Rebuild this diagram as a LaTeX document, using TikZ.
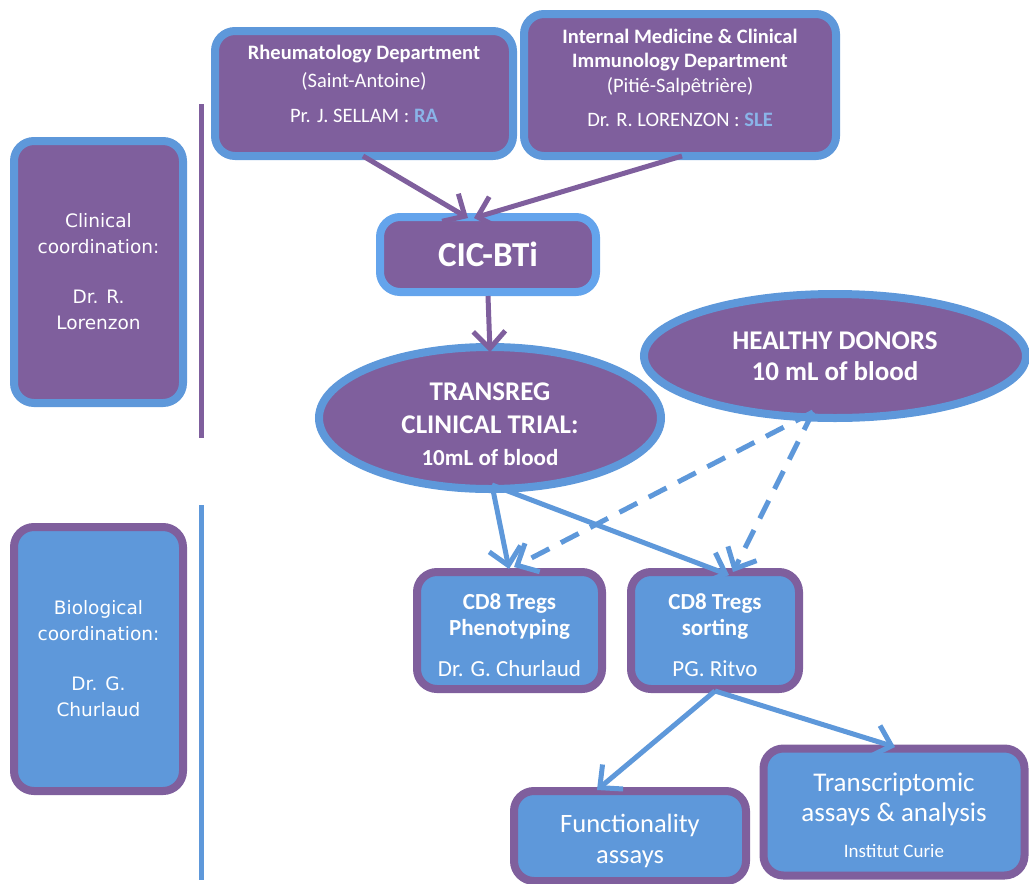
\documentclass[tikz,border=0pt]{standalone}
\usepackage{fontspec}
\setmainfont{Carlito}
\newfontfamily\sidefont{DejaVu Sans}
\usetikzlibrary{arrows.meta,shapes.geometric}
\definecolor{pur}{HTML}{7F5F9D}
\definecolor{blu}{HTML}{5E98DA}
\definecolor{lblu}{HTML}{64A4EC}
\definecolor{sub}{HTML}{8AB4E8}
\tikzset{
  pbox/.style={draw=blu, fill=pur, line width=8pt, rounded corners=20pt, inner sep=0pt},
  bbox/.style={draw=pur, fill=blu, line width=8pt, rounded corners=20pt, inner sep=0pt},
  pell/.style={ellipse, draw=blu, fill=pur, line width=8pt, inner sep=0pt},
  txt/.style={text=white, align=center, inner sep=0pt},
  tip/.style={-{Straight Barb[length=17pt,width=32pt,line width=5pt]}},
  parr/.style={draw=pur, line width=5pt, tip},
  barr/.style={draw=blu, line width=5pt, tip},
  darr/.style={barr, dash pattern=on 20pt off 13pt},
}
\begin{document}
\begin{tikzpicture}[x=1pt,y=-1pt]
\useasboundingbox (0,0) rectangle (1029,884);
% vertical lines
\coordinate (v1a) at (201,104); \coordinate (v1b) at (201,438);
\coordinate (v2a) at (201,505); \coordinate (v2b) at (201,880);
\draw[pur, line width=5pt] (v1a) -- (v1b);
\draw[blu, line width=5pt] (v2a) -- (v2b);
% side boxes
\node[pbox, txt, minimum width=169pt, minimum height=262pt, font=\sidefont\fontsize{18.5}{26}\selectfont] (clin) at (98.5,272)
  {Clinical\\coordination:\\[24pt]Dr. R.\\Lorenzon};
\node[bbox, txt, minimum width=169pt, minimum height=264pt, font=\sidefont\fontsize{18.5}{26}\selectfont] (bio) at (98.5,659)
  {Biological\\coordination:\\[24pt]Dr. G.\\Churlaud};
% top boxes
\node[pbox, minimum width=298pt, minimum height=125pt] (rheum) at (364,93.5) {};
\node[txt, font=\fontsize{20.5}{28}\selectfont] (rheumt) at (364,84)
  {\textbf{Rheumatology Department}\\(Saint-Antoine)\\[7pt]Pr. J. SELLAM : \textcolor{sub}{\textbf{RA}}};
\node[pbox, minimum width=312pt, minimum height=142pt] (intmed) at (680,85) {};
\node[txt, font=\fontsize{20.5}{24.5}\selectfont] (intmedt) at (680,78)
  {\textbf{Internal Medicine \& Clinical}\\\textbf{Immunology Department}\\(Pitié-Salpêtrière)\\[10pt]Dr. R. LORENZON : \textcolor{sub}{\textbf{SLE}}};
\node[pbox, txt, draw=lblu, minimum width=216pt, minimum height=75pt, font=\fontsize{35}{40}\selectfont\bfseries] (cic) at (488,254.5)
  {CIC-BTi};
% ellipses
\node[pell, minimum width=342pt, minimum height=142pt] (trans) at (490,418) {};
\node[txt, font=\fontsize{27}{32.5}\selectfont\bfseries] (transt) at (490,424.5)
  {TRANSREG\\CLINICAL TRIAL:\\\fontsize{23}{31}\selectfont 10mL of blood};
\node[pell, txt, minimum width=382pt, minimum height=124pt, font=\fontsize{27}{31}\selectfont\bfseries] (healthy) at (835,356)
  {HEALTHY DONORS\\10 mL of blood};
% lower boxes
\node[bbox, minimum width=185pt, minimum height=117pt] (pheno) at (509.5,630.5) {};
\node[txt, font=\fontsize{23}{26}\selectfont] (phenot) at (509.5,635)
  {\textbf{CD8 Tregs}\\\textbf{Phenotyping}\\[15pt]Dr. G. Churlaud};
\node[bbox, minimum width=168pt, minimum height=117pt] (sort) at (715,630.5) {};
\node[txt, font=\fontsize{23}{26}\selectfont] (sortt) at (715,635)
  {\textbf{CD8 Tregs}\\\textbf{sorting}\\[15pt]PG. Ritvo};
\node[bbox, minimum width=232pt, minimum height=90pt] (func) at (630,836) {};
\node[txt, font=\fontsize{26.5}{31}\selectfont] (funct) at (630,841)
  {Functionality\\assays};
\node[bbox, minimum width=261pt, minimum height=127pt] (trsc) at (894,812) {};
\node[txt, font=\fontsize{27}{30}\selectfont] (trsct) at (894,815)
  {Transcriptomic\\assays \& analysis\\[6pt]\fontsize{19}{30}\selectfont Institut Curie};
% arrows
\draw[parr] (363,156) -- (468,218);
\draw[parr] (682,156) -- (474,218);
\draw[parr] (cic.south) -- (490,352);
\coordinate (tb) at (492,485);
\draw[barr] (tb) -- (509,569);
\draw[barr] (tb) -- (729,575);
\coordinate (hb) at (813,412);
\draw[darr] (hb) -- (514,567);
\draw[darr] (hb) -- (733,572);
\coordinate (sb) at (715,691);
\draw[barr] (sb) -- (597,790);
\draw[barr] (sb) -- (895,747);
\end{tikzpicture}
\end{document}
